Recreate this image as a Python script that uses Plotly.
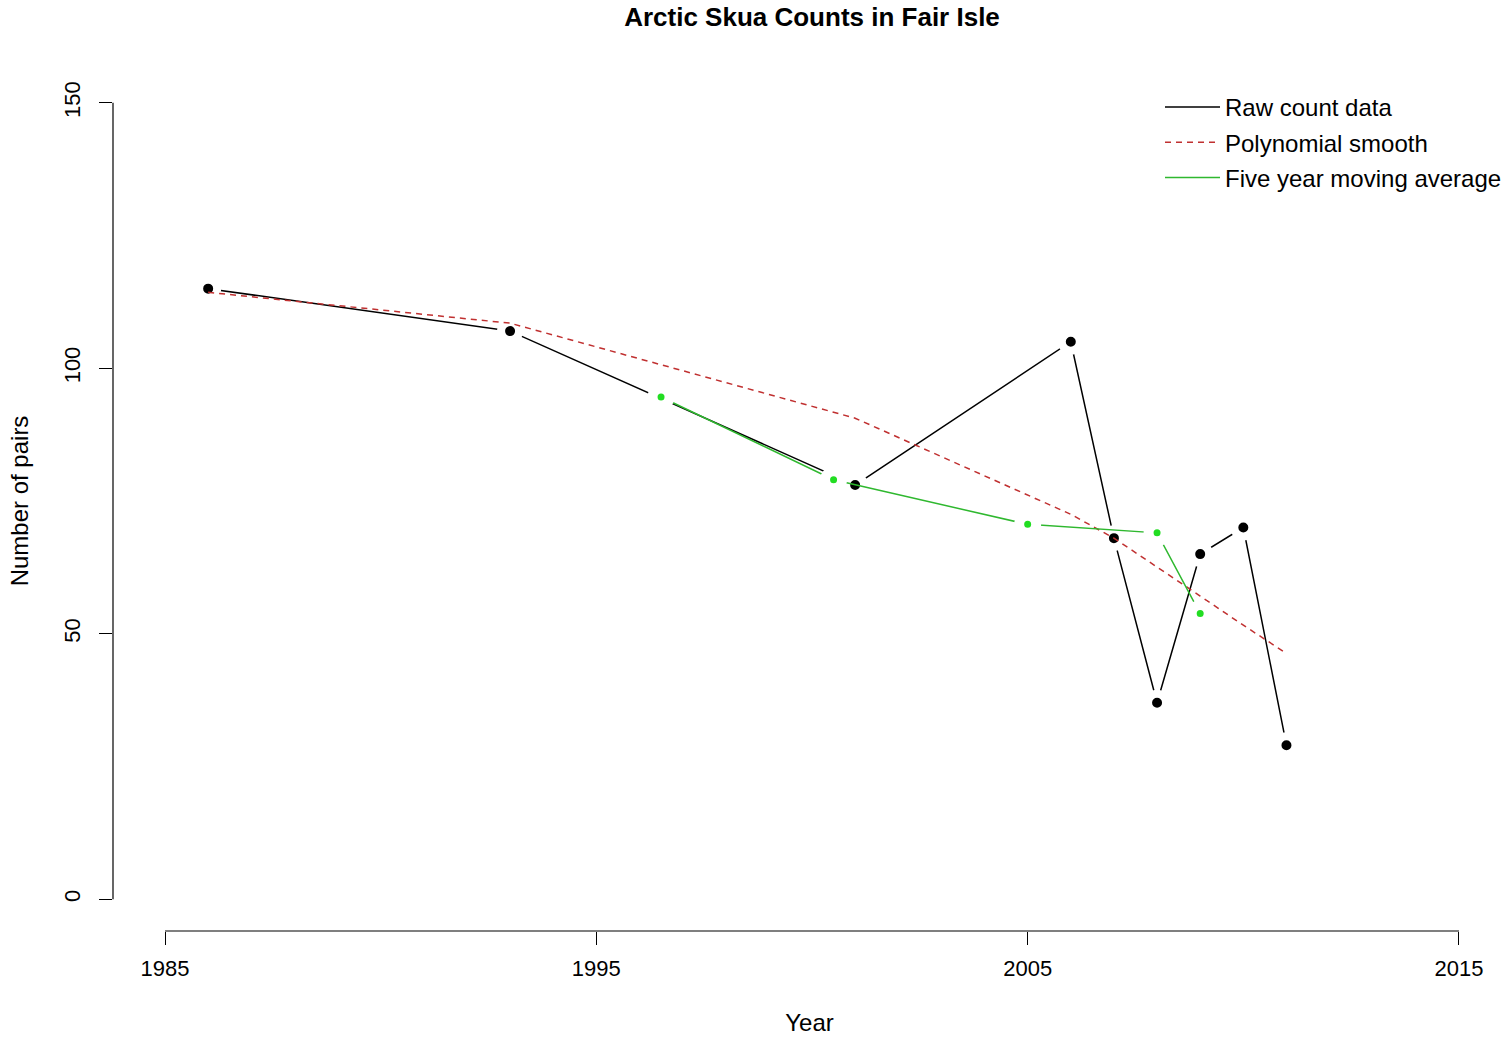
import plotly.graph_objects as go

# ---- data ----
years = [1986, 1993, 2001, 2006, 2007, 2008, 2009, 2010, 2011]
raw_counts = [115, 107, 78, 105, 68, 37, 65, 70, 29]
poly_smooth = [114.3, 108.5, 90.6, 72.5, 68.0, 62.6, 57.1, 51.6, 46.3]
ma_years = [1996.5, 2000.5, 2005, 2008, 2009]
ma_values = [94.6, 79.0, 70.6, 69.0, 53.8]
x_ticks = [1985, 1995, 2005, 2015]
y_ticks = [0, 50, 100, 150]

FONT = "Liberation Sans, Arial, sans-serif"
GREEN_LINE = "#2fb82f"
GREEN_PT = "#22dd22"
RED = "#c03030"

fig = go.Figure()

# Raw counts (type "b": line with gaps around points)
fig.add_trace(go.Scatter(x=years, y=raw_counts, mode="lines", name="Raw count data",
                         line=dict(color="black", width=1.5), legendgroup="a"))
fig.add_trace(go.Scatter(x=years, y=raw_counts, mode="markers", showlegend=False,
                         marker=dict(color="black", size=18, line=dict(color="white", width=8))))
# Polynomial smooth
fig.add_trace(go.Scatter(x=years, y=poly_smooth, mode="lines", name="Polynomial smooth",
                         line=dict(color=RED, width=1.5, dash="6px,5px"), legendgroup="b"))
# Moving average
fig.add_trace(go.Scatter(x=ma_years, y=ma_values, mode="lines", name="Five year moving average",
                         line=dict(color=GREEN_LINE, width=1.5), legendgroup="c"))
fig.add_trace(go.Scatter(x=ma_years, y=ma_values, mode="markers", showlegend=False,
                         marker=dict(color=GREEN_PT, size=17, line=dict(color="white", width=10))))

# R-style axis lines spanning only the tick range
fig.add_shape(type="line", xref="x", yref="paper", x0=x_ticks[0], x1=x_ticks[-1], y0=0, y1=0,
              line=dict(color="black", width=1.2))
fig.add_shape(type="line", xref="paper", yref="y", x0=0, x1=0, y0=y_ticks[0], y1=y_ticks[-1],
              line=dict(color="black", width=1.2))

fig.update_layout(
    width=1506, height=1037,
    margin=dict(l=113, r=0, t=71, b=106, autoexpand=False),
    paper_bgcolor="white", plot_bgcolor="white",
    font=dict(family=FONT, color="black", size=22),
    title=dict(text="<b>Arctic Skua Counts in Fair Isle</b>", font=dict(size=26, family=FONT, color="black"),
               xref="container", x=812/1506, xanchor="center", yref="container", y=1-17/1037, yanchor="middle"),
    showlegend=True,
    legend=dict(xref="container", yref="container", x=1160/1506, y=1-85/1037, xanchor="left", yanchor="top",
                font=dict(size=24, family=FONT, color="black"), bgcolor="rgba(0,0,0,0)",
                tracegroupgap=1, traceorder="grouped", itemwidth=55),
    xaxis=dict(range=[1983.794, 2016.09], tickvals=x_ticks, ticktext=[str(v) for v in x_ticks],
               showgrid=False, zeroline=False, showline=False, ticks="outside", ticklen=13,
               tickcolor="black", tickwidth=1.2, tickfont=dict(size=22, family=FONT),
               ticklabelstandoff=5,
               title=dict(text="Year", font=dict(size=24, family=FONT), standoff=33)),
    yaxis=dict(range=[-6, 156], tickvals=y_ticks, ticktext=[str(v) for v in y_ticks],
               showgrid=False, zeroline=False, showline=False, ticks="outside", ticklen=13,
               tickcolor="black", tickwidth=1.2, tickangle=-90, tickfont=dict(size=22, family=FONT),
               ticklabelstandoff=10,
               title=dict(text="Number of pairs", font=dict(size=24, family=FONT), standoff=24)),
)

fig.write_html("out.html", config={"displayModeBar": False},
               post_script="document.body.style.margin='0';document.body.style.padding='0';")
